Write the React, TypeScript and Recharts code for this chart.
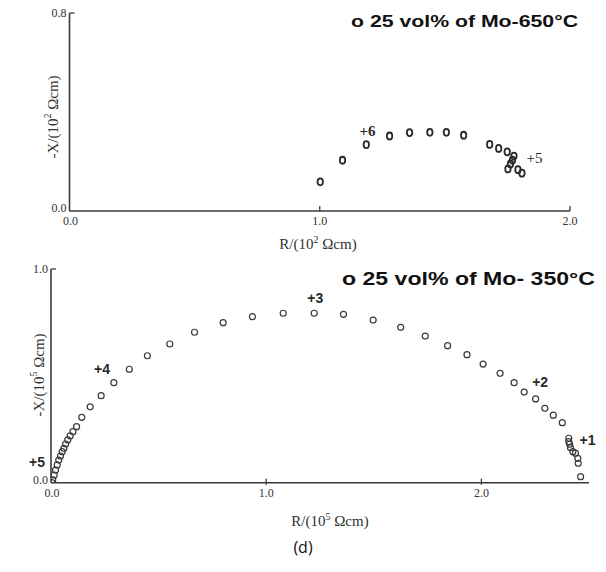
import React from 'react';
import { ScatterChart, Scatter, XAxis, YAxis, ReferenceDot, Label } from 'recharts';

// ---- Top panel: 25 vol% of Mo - 650°C (units of 10^2 Ωcm)
const topR = [1.002, 1.091, 1.186, 1.279, 1.359, 1.440, 1.506, 1.575, 1.679, 1.715, 1.749, 1.776, 1.770, 1.762, 1.752, 1.792, 1.808];
const topX = [0.118, 0.205, 0.268, 0.303, 0.317, 0.318, 0.318, 0.306, 0.269, 0.253, 0.239, 0.222, 0.205, 0.190, 0.170, 0.167, 0.153];
const topXTicks = [0, 1, 2];
const topYTicks = [0, 0.8];
const topNotes = ['+6', '+5'];
const topNoteR = [1.191, 1.858];
const topNoteX = [0.323, 0.216];

// ---- Bottom panel: 25 vol% of Mo - 350°C (units of 10^5 Ωcm)
const botR = [0.004, 0.008, 0.015, 0.021, 0.029, 0.036, 0.044, 0.052, 0.060, 0.068, 0.078, 0.089, 0.102, 0.119, 0.143, 0.182, 0.233, 0.292, 0.364, 0.448, 0.552, 0.667, 0.800, 0.936, 1.079, 1.223, 1.359, 1.497, 1.625, 1.739, 1.843, 1.933, 2.008, 2.087, 2.152, 2.199, 2.252, 2.295, 2.334, 2.376, 2.406, 2.406, 2.410, 2.414, 2.425, 2.437, 2.448, 2.450, 2.461];
const botX = [0.0, 0.013, 0.036, 0.059, 0.083, 0.106, 0.125, 0.145, 0.161, 0.181, 0.200, 0.219, 0.239, 0.262, 0.306, 0.355, 0.407, 0.468, 0.531, 0.594, 0.649, 0.704, 0.749, 0.777, 0.793, 0.793, 0.788, 0.761, 0.727, 0.686, 0.641, 0.599, 0.555, 0.512, 0.468, 0.424, 0.392, 0.348, 0.316, 0.281, 0.208, 0.192, 0.180, 0.164, 0.145, 0.138, 0.114, 0.091, 0.028];
const botXTicks = [0, 1, 2];
const botYTicks = [0, 1];
const botNotes = ['+3', '+4', '+2', '+1', '+5'];
const botNoteR = [1.228, 0.237, 2.273, 2.493, -0.065];
const botNoteX = [0.864, 0.532, 0.473, 0.2, 0.097];

const titles = ['o  25 vol% of Mo-650°C', 'o  25 vol% of Mo- 350°C'];
const caption = '(d)';

const SERIF = '"Liberation Serif", "Times New Roman", serif';
const SANS = '"Liberation Sans", Arial, sans-serif';
const AX = '#3a3a3a';

const topData = topR.map((r, i) => ({ r, x: topX[i] }));
const botData = botR.map((r, i) => ({ r, x: botX[i] }));

const XTick = (props: any) => {
  const { x, y, payload, markUp, markDown } = props;
  const v = payload.value;
  return (
    <g>
      {v !== 0 && <line x1={x} x2={x} y1={y - markUp} y2={y + markDown} stroke={AX} strokeWidth={1.3} />}
      <text x={x + (v === 0 ? 1 : 0)} y={y + 14} textAnchor="middle" fontFamily={SERIF} fontSize={12} fill="#333">
        {v.toFixed(1)}
      </text>
    </g>
  );
};

const YTick = (props: any) => {
  const { x, y, payload } = props;
  const v = payload.value;
  return (
    <g>
      {v !== 0 && <line x1={x} x2={x + 5} y1={y} y2={y} stroke={AX} strokeWidth={1.3} />}
      <text x={x - 3} y={y + (v === 0 ? 1 : 4)} textAnchor="end" fontFamily={SERIF} fontSize={12} fill="#333">
        {v.toFixed(1)}
      </text>
    </g>
  );
};

const yLabel = (exp: string, cx: number, cy: number) => () => (
  <text transform={`rotate(-90 ${cx} ${cy})`} x={cx} y={cy} textAnchor="middle" dominantBaseline="central" fontFamily={SERIF} fontSize={15} fill="#333">
    <tspan>-X/(10</tspan>
    <tspan dy={-6} fontSize={10}>{exp}</tspan>
    <tspan dy={6}> Ωcm)</tspan>
  </text>
);

const xLabel = (exp: string, cx: number, cy: number) => () => (
  <text x={cx} y={cy} textAnchor="middle" fontFamily={SERIF} fontSize={15} fill="#333">
    <tspan>R/(10</tspan>
    <tspan dy={-6} fontSize={10}>{exp}</tspan>
    <tspan dy={6}> Ωcm)</tspan>
  </text>
);

const Oval = (p: any) => (
  <ellipse cx={p.cx} cy={p.cy} rx={2.7} ry={3.5} fill="none" stroke="#2a2a2a" strokeWidth={1.8} />
);
const Ring = (p: any) => (
  <circle cx={p.cx} cy={p.cy} r={3} fill="none" stroke="#3a3a3a" strokeWidth={1.2} />
);

const note = (text: string, font: string, weight: string, size: number) => (p: any) => (
  <text x={p.cx} y={p.cy} textAnchor="middle" dominantBaseline="central" fontFamily={font} fontWeight={weight} fontSize={size} fill="#2a2a2a">
    {text}
  </text>
);

export default function App() {
  return (
    <div style={{ position: 'absolute', left: 0, top: 0, width: 606, height: 572, background: '#fff', overflow: 'hidden' }}>
      <div style={{ position: 'absolute', left: 0, top: 0 }}>
        <ScatterChart width={606} height={255} margin={{ top: 13, right: 36, bottom: 0, left: 0 }}>
          <XAxis
            type="number"
            dataKey="r"
            domain={[0, 2]}
            ticks={topXTicks}
            interval={0}
            allowDataOverflow
            height={44}
            tickSize={0}
            tickMargin={0}
            tickLine={false}
            axisLine={{ stroke: AX, strokeWidth: 1.6 }}
            tick={<XTick markUp={5} markDown={0} />}
          >
            <Label content={xLabel('2', 318, 249)} />
          </XAxis>
          <YAxis
            type="number"
            dataKey="x"
            domain={[0, 0.8]}
            ticks={topYTicks}
            interval={0}
            allowDataOverflow
            width={69.5}
            tickSize={0}
            tickMargin={0}
            tickLine={false}
            axisLine={{ stroke: AX, strokeWidth: 1.6 }}
            tick={<YTick />}
          >
            <Label content={yLabel('2', 53, 117)} />
          </YAxis>
          <Scatter data={topData} shape={Oval} isAnimationActive={false} />
          {topNotes.map((t, i) => (
            <ReferenceDot key={t} x={topNoteR[i]} y={topNoteX[i]} r={0} ifOverflow="visible"
              shape={note(t, SERIF, i === 0 ? 'bold' : 'normal', 15)} />
          ))}
        </ScatterChart>
      </div>
      <div style={{ position: 'absolute', left: 0, top: 255 }}>
        <ScatterChart width={606} height={317} margin={{ top: 14, right: 17, bottom: 0, left: 0 }}>
          <XAxis
            type="number"
            dataKey="r"
            domain={[0, 2.5]}
            ticks={botXTicks}
            interval={0}
            allowDataOverflow
            height={89.3}
            tickSize={0}
            tickMargin={0}
            tickLine={false}
            axisLine={{ stroke: AX, strokeWidth: 1.6 }}
            tick={<XTick markUp={4} markDown={2} />}
          >
            <Label content={xLabel('5', 330, 271)} />
          </XAxis>
          <YAxis
            type="number"
            dataKey="x"
            domain={[0, 1]}
            ticks={botYTicks}
            interval={0}
            allowDataOverflow
            width={51}
            tickSize={0}
            tickMargin={0}
            tickLine={false}
            axisLine={{ stroke: AX, strokeWidth: 1.6 }}
            tick={<YTick />}
          >
            <Label content={yLabel('5', 38.6, 120)} />
          </YAxis>
          <Scatter data={botData} shape={Ring} isAnimationActive={false} />
          {botNotes.map((t, i) => (
            <ReferenceDot key={t} x={botNoteR[i]} y={botNoteX[i]} r={0} ifOverflow="visible"
              shape={note(t, SANS, 'bold', 14)} />
          ))}
        </ScatterChart>
      </div>
      <svg width={606} height={572} style={{ position: 'absolute', left: 0, top: 0, pointerEvents: 'none' }}>
        <text x={351} y={27} fontFamily={SANS} fontWeight="bold" fontSize={17} fill="#111" textLength={227} lengthAdjust="spacingAndGlyphs">
          {titles[0]}
        </text>
        <text x={342} y={285} fontFamily={SANS} fontWeight="bold" fontSize={19} fill="#111" textLength={253} lengthAdjust="spacingAndGlyphs">
          {titles[1]}
        </text>
        <text x={303} y={553} textAnchor="middle" fontFamily='"Open Sans", "Noto Sans", sans-serif' fontSize={16} fill="#111">
          {caption}
        </text>
      </svg>
    </div>
  );
}
